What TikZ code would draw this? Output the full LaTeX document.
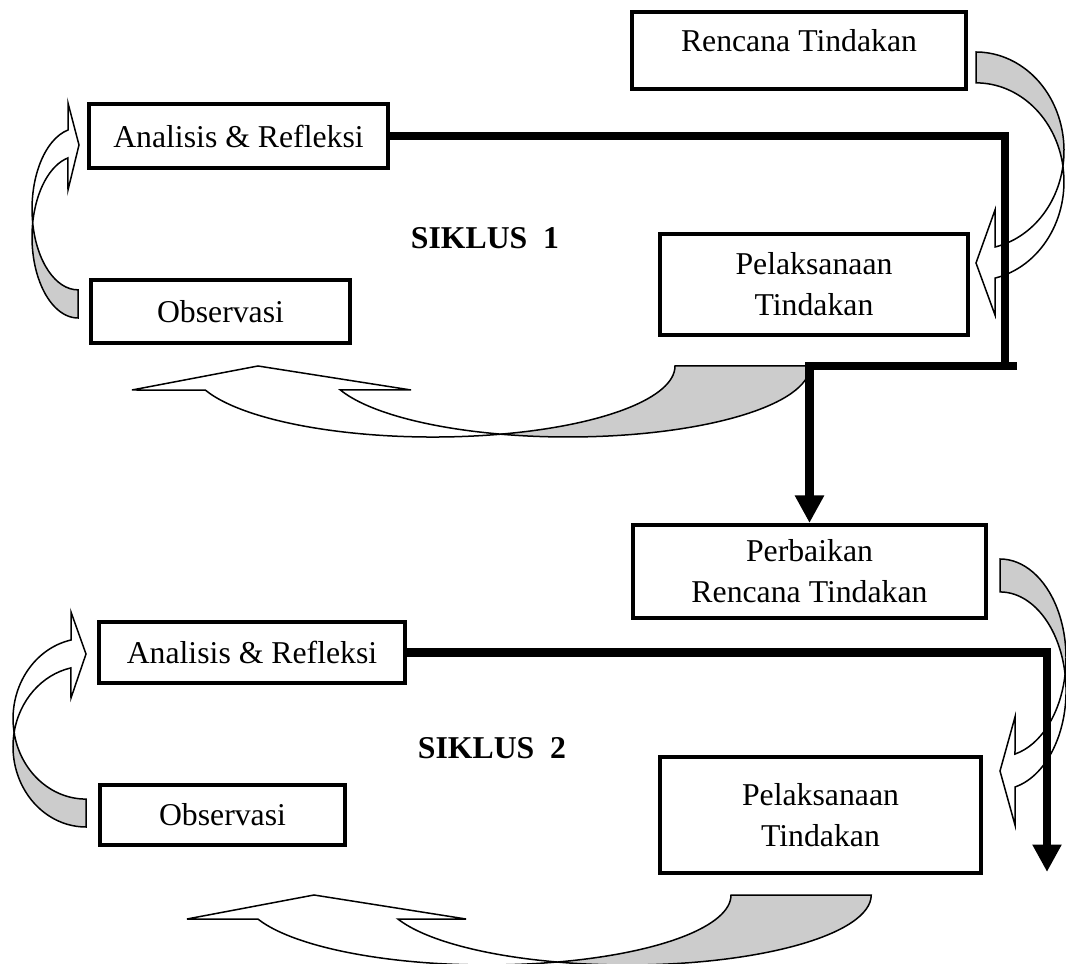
\documentclass[tikz,border=0pt]{standalone}
\usepackage{fontspec}
\setmainfont{Liberation Serif}
\usetikzlibrary{arrows.meta}
\definecolor{bandgrey}{HTML}{CCCCCC}

\begin{document}
\begin{tikzpicture}[x=0.4pt,y=-0.4pt,
box/.style={draw,line width=1.6pt,rectangle,inner sep=0pt,align=center,
    font=\fontsize{12.7}{16.5}\selectfont},
cyclename/.style={font=\fontsize{12.7}{15}\selectfont\bfseries},
flow/.style={line width=3.3pt},
flowhead/.style={-{Triangle[length=11pt,width=11pt]}},
band/.style={draw,line width=0.6pt,fill=bandgrey},
front/.style={draw,line width=0.6pt,fill=white}]
\useasboundingbox (0,0) rectangle (1066,964);

\node (rencana1) [box,minimum width=133.6pt,minimum height=30.8pt,text depth=8pt] at (799,50.5) {Rencana Tindakan};
\node (analisis1) [box,minimum width=119.6pt,minimum height=25.6pt] at (238.5,136) {Analisis \& Refleksi};
\node (observasi1) [box,minimum width=103.6pt,minimum height=25.2pt] at (220.5,311.5) {Observasi};
\node (pelaksanaan1) [box,minimum width=123.2pt,minimum height=40.4pt] at (814,284.5) {Pelaksanaan \\ Tindakan};
\node (siklus1) [cyclename] at (485,238) {SIKLUS\ \ 1};

\node (perbaikan) [box,minimum width=141.2pt,minimum height=37.2pt] at (809.5,571.5) {Perbaikan \\ Rencana Tindakan};
\node (analisis2) [box,minimum width=122.4pt,minimum height=24.4pt] at (252,652.5) {Analisis \& Refleksi};
\node (observasi2) [box,minimum width=98pt,minimum height=24pt] at (222.5,815) {Observasi};
\node (pelaksanaan2) [box,minimum width=128.4pt,minimum height=46.4pt] at (820.5,815) {Pelaksanaan \\ Tindakan};
\node (siklus2) [cyclename] at (492,748) {SIKLUS\ \ 2};

% siklus 1
\path[band] (976,52) arc[start angle=-90,end angle=9,x radius=88,y radius=98.7]
  arc[start angle=-9,end angle=-90,x radius=88,y radius=98.7] -- cycle;
\path[front] (1062.9,166.1) arc[start angle=9,end angle=77.5,x radius=88,y radius=98.7]
  -- (995,210) -- (976,263) -- (995,315) -- (995,278.1)
  arc[start angle=77.5,end angle=-9,x radius=88,y radius=98.7] -- cycle;

\path[band] (78,318) arc[start angle=90,end angle=190,x radius=46,y radius=81]
  arc[start angle=170,end angle=90,x radius=46,y radius=81] -- cycle;
\path[front] (32.7,222.9) arc[start angle=190,end angle=257.4,x radius=46,y radius=81]
  -- (68,190) -- (79,145) -- (68,103) -- (68,130)
  arc[start angle=257.4,end angle=170,x radius=46,y radius=81] -- cycle;

\path[band] (675,366) arc[start angle=0,end angle=73.8,x radius=242,y radius=71]
  arc[start angle=106.2,end angle=0,x radius=242,y radius=71] -- cycle;
\path[front] (500.5,434.2) arc[start angle=73.8,end angle=160.2,x radius=242,y radius=71]
  -- (132,390) -- (258,366) -- (411,390) -- (340.4,390)
  arc[start angle=160.2,end angle=106.2,x radius=242,y radius=71] -- cycle;

% siklus 2
\path[band] (1000,559) arc[start angle=-90,end angle=9.6,x radius=66,y radius=98.8]
  arc[start angle=-9.6,end angle=-90,x radius=66,y radius=98.8] -- cycle;
\path[front] (1065.1,674.3) arc[start angle=9.6,end angle=76.9,x radius=66,y radius=98.8]
  -- (1015,717) -- (1000,771) -- (1015,825) -- (1015,787)
  arc[start angle=76.9,end angle=-9.6,x radius=66,y radius=98.8] -- cycle;

\path[band] (86,827) arc[start angle=90,end angle=190,x radius=73,y radius=80.4]
  arc[start angle=170,end angle=90,x radius=73,y radius=80.4] -- cycle;
\path[front] (14.1,732.6) arc[start angle=190,end angle=258.1,x radius=73,y radius=80.4]
  -- (71,698) -- (86,654) -- (71,612) -- (71,640)
  arc[start angle=258.1,end angle=170,x radius=73,y radius=80.4] -- cycle;

\path[band] (731,895) arc[start angle=0,end angle=73.3,x radius=244,y radius=70]
  arc[start angle=106.7,end angle=0,x radius=244,y radius=70] -- cycle;
\path[front] (557.1,962) arc[start angle=73.3,end angle=159.9,x radius=244,y radius=70]
  -- (187,919) -- (314,895) -- (466,919) -- (397.9,919)
  arc[start angle=159.9,end angle=106.7,x radius=244,y radius=70] -- cycle;

\coordinate (turn1) at (1005,366);
\coordinate (stub1) at (1017,366);
\coordinate (end2) at (1047,872);
\draw[flow] (analisis1.east) -| (turn1);
\draw[flow,flowhead] (stub1) -| (perbaikan.north);
\draw[flow,flowhead] (analisis2.east) -| (end2);

\end{tikzpicture}
\end{document}
